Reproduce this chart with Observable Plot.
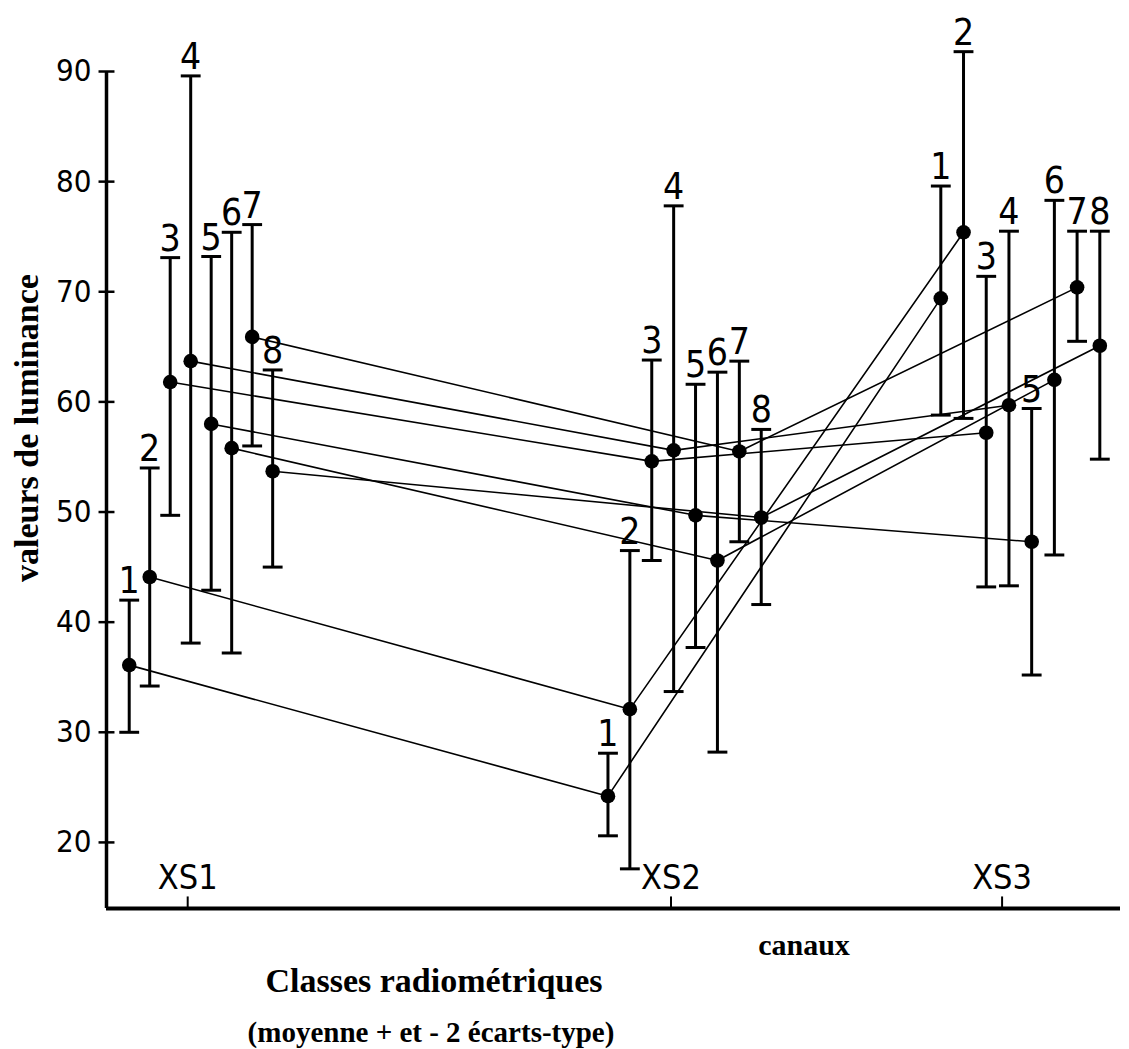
<!DOCTYPE html>
<html>
<head>
<meta charset="utf-8">
<script src="https://cdn.jsdelivr.net/npm/d3@7"></script>
<script src="https://cdn.jsdelivr.net/npm/@observablehq/plot@0.6"></script>
<style>
  html, body { margin: 0; padding: 0; background: #fff; }
  #page { position: relative; width: 1129px; height: 1049px; background: #fff; color: #000; overflow: hidden; }
  #chart { position: absolute; left: 0; top: 0; }
  .lbl { position: absolute; white-space: nowrap; font-family: "Liberation Serif", "Times New Roman", serif; font-weight: bold; line-height: 1; color: #000; }
</style>
</head>
<body>
<div id="page">
  <div id="chart"></div>
  <div class="lbl" id="ylabel" style="font-size:34px; left:27px; top:428px; transform: translate(-50%,-50%) rotate(-90deg);">valeurs de luminance</div>
  <div class="lbl" style="font-size:30px; left:804px; top:930px; transform: translateX(-50%);">canaux</div>
  <div class="lbl" style="font-size:34px; left:434px; top:964px; transform: translateX(-50%);">Classes radiométriques</div>
  <div class="lbl" style="font-size:29px; left:431px; top:1018px; transform: translateX(-50%);">(moyenne + et - 2 écarts-type)</div>
</div>
<script>
// ---- data ----
const classes = [1, 2, 3, 4, 5, 6, 7, 8];
const channels = ["XS1", "XS2", "XS3"];
// position of each channel along the horizontal axis (hand-drawn spacing)
const channelPos = [1, 2, 2.685];
const yTicks = [20, 30, 40, 50, 60, 70, 80, 90];

// means
const meanXS1 = [36.1, 44.1, 61.8, 63.7, 58.0, 55.8, 65.9, 53.7];
const meanXS2 = [24.2, 32.1, 54.6, 55.6, 49.7, 45.6, 55.5, 49.5];
const meanXS3 = [69.4, 75.4, 57.2, 59.7, 47.3, 62.0, 70.4, 65.1];
// mean - 2 sd
const lowXS1 = [30.0, 34.2, 49.7, 38.1, 42.9, 37.2, 56.0, 45.0];
const lowXS2 = [20.6, 17.6, 45.6, 33.7, 37.7, 28.2, 47.3, 41.6];
const lowXS3 = [58.8, 58.5, 43.2, 43.3, 35.2, 46.1, 65.5, 54.8];
// mean + 2 sd
const highXS1 = [42.0, 54.0, 73.1, 89.6, 73.2, 75.4, 76.1, 62.9];
const highXS2 = [28.1, 46.5, 63.8, 77.8, 61.6, 62.7, 63.7, 57.5];
const highXS3 = [79.6, 91.8, 71.4, 75.5, 59.4, 78.3, 75.5, 75.5];

// ---- table built from the arrays ----
const means = [meanXS1, meanXS2, meanXS3];
const lows = [lowXS1, lowXS2, lowXS3];
const highs = [highXS1, highXS2, highXS3];
const xDomain = [0.832, 2.93];
const yDomain = [14, 90];
// classes are spread side by side around each channel tick (per-channel spacing of the drawing)
const spread = [0.0424, 0.0453, 0.0470];
const shift = [0.0274, 0.0281, 0.0377];
const table = [];
channels.forEach((ch, ci) => {
  classes.forEach((k, i) => {
    table.push({
      channel: ch,
      cls: k,
      x: channelPos[ci] + shift[ci] + (k - 4.5) * spread[ci],
      mean: means[ci][i],
      lo: lows[ci][i],
      hi: highs[ci][i]
    });
  });
});
const channelTable = channels.map((name, i) => ({name, pos: channelPos[i]}));

// custom symbols: horizontal cap and upward tick
const hbar = {draw(ctx, size) { const w = Math.sqrt(size); ctx.moveTo(-w, 0); ctx.lineTo(w, 0); }};
const vbar = {draw(ctx, size) { const h = Math.sqrt(size); ctx.moveTo(0, 0); ctx.lineTo(0, -h); }};

const narrow = "'Liberation Sans Narrow', 'DejaVu Sans Condensed', 'Arial Narrow', sans-serif";
const H = 960;

const chart = Plot.plot({
  width: 1129,
  height: H,
  marginLeft: 106,
  marginRight: 9,
  marginTop: 71,
  marginBottom: H - 908,
  style: {background: "#fff", color: "#000", fontFamily: narrow, overflow: "visible"},
  x: {domain: xDomain, axis: null},
  y: {domain: yDomain, axis: null},
  marks: [
    // axes lines
    Plot.ruleX([xDomain[0]], {stroke: "#000", strokeWidth: 3.5}),
    Plot.ruleY([yDomain[0]], {stroke: "#000", strokeWidth: 4}),
    // y ticks crossing the axis
    Plot.dot(yTicks, {y: d => d, frameAnchor: "left", symbol: hbar, r: 4.5, fill: "none", stroke: "#000", strokeWidth: 2.5}),
    Plot.axisY(yTicks, {tickSize: 0, tickPadding: 15, fontSize: 31, fontFamily: narrow, label: null, tickFormat: d => String(d)}),
    // x ticks and labels
    Plot.dot(channelTable, {x: "pos", frameAnchor: "bottom", symbol: vbar, r: 6.8, fill: "none", stroke: "#000", strokeWidth: 2}),
    Plot.text(channelTable, {x: "pos", text: "name", frameAnchor: "bottom", lineAnchor: "bottom", dy: -20, fontSize: 34, fontFamily: narrow, fill: "#000"}),
    // connecting lines between the means of each class
    Plot.line(table, {x: "x", y: "mean", z: "cls", stroke: "#000", strokeWidth: 1.6}),
    // error bars
    Plot.ruleX(table, {x: "x", y1: "lo", y2: "hi", stroke: "#000", strokeWidth: 3}),
    Plot.dot(table, {x: "x", y: "hi", symbol: hbar, r: 5.6, fill: "none", stroke: "#000", strokeWidth: 3}),
    Plot.dot(table, {x: "x", y: "lo", symbol: hbar, r: 5.6, fill: "none", stroke: "#000", strokeWidth: 3}),
    // means
    Plot.dot(table, {x: "x", y: "mean", r: 7.3, fill: "#000", stroke: "none"}),
    // class numbers
    Plot.text(table, {x: "x", y: "hi", text: d => String(d.cls), lineAnchor: "bottom", dy: -7, fontSize: 37, fontFamily: narrow, fill: "#000"})
  ]
});
document.getElementById("chart").appendChild(chart);
</script>
</body>
</html>
